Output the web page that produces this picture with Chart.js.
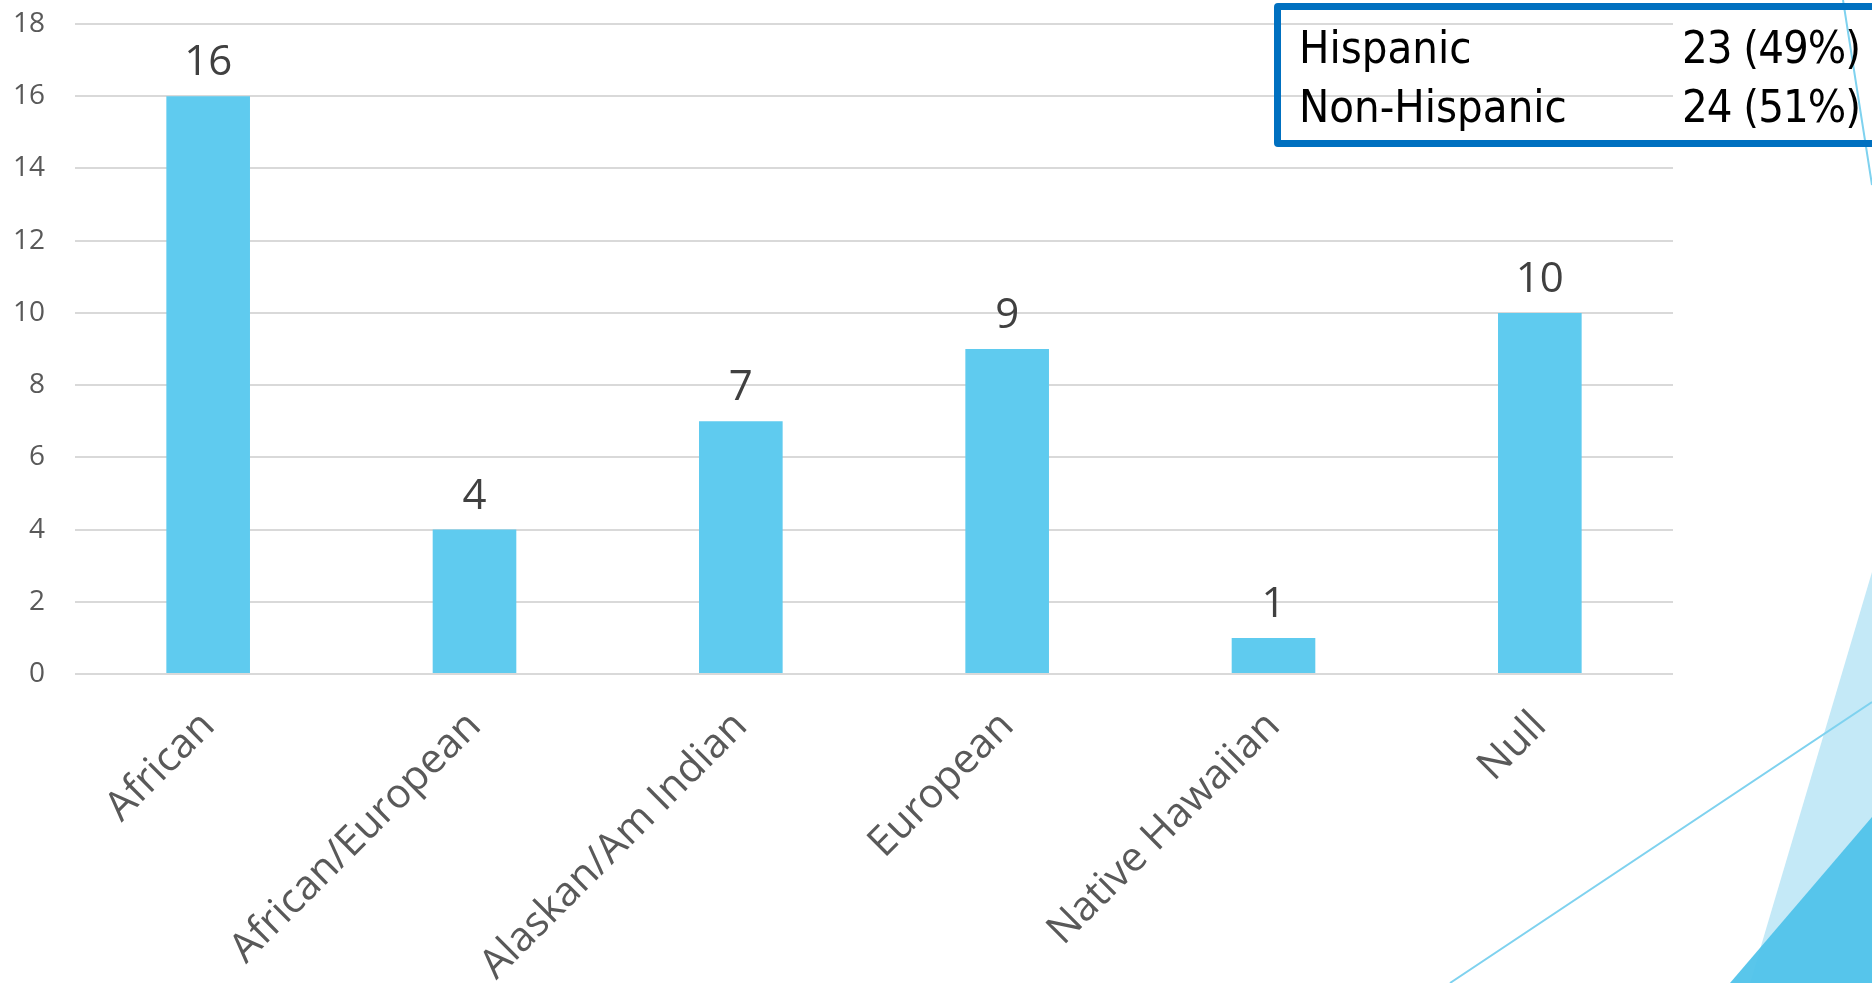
<!DOCTYPE html>
<html>
<head>
<meta charset="utf-8">
<script src="https://cdn.jsdelivr.net/npm/chart.js@4.4.0/dist/chart.umd.min.js"></script>
<style>
  html, body { margin: 0; padding: 0; background: #fff; overflow: hidden; }
  #wrap { position: relative; width: 1872px; height: 983px; overflow: hidden; }
  #ethnicBox {
    position: absolute; left: 1274px; top: 3px; width: 640px; height: 144px;
    box-sizing: border-box; border: 7px solid #0070C0; border-radius: 4px;
  }
  .lbl {
    position: absolute; font-family: "DejaVu Sans Condensed", "DejaVu Sans", sans-serif;
    font-stretch: condensed; font-size: 45px; line-height: 45px; color: #000; white-space: nowrap;
  }
</style>
</head>
<body>
<div id="wrap">
  <canvas id="raceChart" width="1872" height="983"></canvas>
  <div id="ethnicBox"></div>
  <div class="lbl" style="left:1299px; top:25px;">Hispanic</div>
  <div class="lbl" style="left:1682px; top:25px; letter-spacing:-1px;">23 (49%)</div>
  <div class="lbl" style="left:1299px; top:84px;">Non-Hispanic</div>
  <div class="lbl" style="left:1682px; top:84px; letter-spacing:-1px;">24 (51%)</div>
</div>
<script>
const categories = ["African", "African/European", "Alaskan/Am Indian", "European", "Native Hawaiian", "Null"];
const counts = [16, 4, 7, 9, 1, 10];
const yTicks = [0, 2, 4, 6, 8, 10, 12, 14, 16, 18];

// slide background shapes (bottom right corner + thin lines)
const slideDecor = {
  id: "slideDecor",
  beforeDraw(chart) {
    const ctx = chart.ctx;
    ctx.save();
    ctx.fillStyle = "#fff";
    ctx.fillRect(0, 0, chart.width, chart.height);

    ctx.fillStyle = "#C4E9F7";
    ctx.beginPath();
    ctx.moveTo(1872, 572);
    ctx.lineTo(1750, 983);
    ctx.lineTo(1872, 983);
    ctx.closePath();
    ctx.fill();

    ctx.fillStyle = "rgba(80,195,234,0.95)";
    ctx.beginPath();
    ctx.moveTo(1730, 983);
    ctx.lineTo(1872, 817);
    ctx.lineTo(1872, 983);
    ctx.closePath();
    ctx.fill();

    ctx.strokeStyle = "#7FD2EF";
    ctx.lineWidth = 2;
    ctx.beginPath();
    ctx.moveTo(1450, 983);
    ctx.lineTo(1872, 702);
    ctx.moveTo(1843, 0);
    ctx.lineTo(1872, 185);
    ctx.stroke();
    ctx.restore();
  }
};

// value labels above the bars
const barValues = {
  id: "barValues",
  afterDatasetsDraw(chart) {
    const ctx = chart.ctx;
    const meta = chart.getDatasetMeta(0);
    ctx.save();
    ctx.font = "42px 'Open Sans'";
    ctx.fillStyle = "#404040";
    ctx.textAlign = "center";
    ctx.textBaseline = "alphabetic";
    meta.data.forEach((bar, i) => {
      ctx.fillText(String(counts[i]), bar.x, bar.y - 21);
    });
    ctx.restore();
  }
};

Chart.defaults.font.family = "'Open Sans', sans-serif";

const ctx = document.getElementById("raceChart").getContext("2d");
new Chart(ctx, {
  type: "bar",
  data: {
    labels: categories,
    datasets: [{
      data: counts,
      backgroundColor: "#5FCBEF",
      borderWidth: 0,
      categoryPercentage: 1,
      barPercentage: 0.314
    }]
  },
  options: {
    responsive: false,
    animation: false,
    layout: { padding: { top: 24, right: 199, left: 0, bottom: 0 } },
    plugins: { legend: { display: false }, tooltip: { enabled: false } },
    scales: {
      x: {
        grid: { display: false },
        border: { display: false },
        ticks: {
          color: "#595959",
          font: { size: 41 },
          minRotation: 45,
          maxRotation: 45,
          padding: 20
        },
        afterFit(scale) { scale.height = 309; }
      },
      y: {
        min: 0,
        max: 18,
        afterBuildTicks(scale) { scale.ticks = yTicks.map(v => ({ value: v })); },
        grid: { color: "#D9D9D9", lineWidth: 2, drawTicks: false },
        border: { display: false },
        ticks: { color: "#595959", font: { size: 28 }, padding: 30 },
        afterFit(scale) {
          scale.width = 75;
          scale.paddingTop = 0;
          scale.paddingBottom = 0;
        }
      }
    }
  },
  plugins: [slideDecor, barValues]
});
</script>
</body>
</html>
